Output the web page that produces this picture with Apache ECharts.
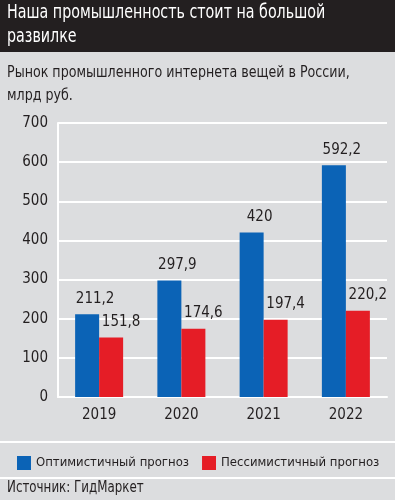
<!DOCTYPE html>
<html><head><meta charset="utf-8">
<script src="https://cdn.jsdelivr.net/npm/echarts@6/dist/echarts.min.js"></script>
<style>html,body{margin:0;padding:0;background:#dcdddf}#c{width:395px;height:500px}</style>
</head><body><div id="c"></div>
<script>
const categories = ['2019', '2020', '2021', '2022'];
const optimistic = [211.2, 297.9, 420, 592.2];
const pessimistic = [151.8, 174.6, 197.4, 220.2];
const seriesNames = ['Оптимистичный прогноз', 'Пессимистичный прогноз'];
const titleText = 'Наша промышленность стоит на большой\nразвилке';
const subtitleText = 'Рынок промышленного интернета вещей в России,\nмлрд руб.';
const sourceText = 'Источник: ГидМаркет';

const FONT = '"DejaVu Sans Condensed", sans-serif';
const fmt = p => String(p.value).replace('.', ',');
const chart = echarts.init(document.getElementById('c'));
chart.setOption({
  backgroundColor: '#dcdddf',
  textStyle: { fontFamily: FONT },
  graphic: [
    { type: 'rect', left: 0, top: 0, shape: { width: 395, height: 52 }, style: { fill: '#231f20' }, z: 0 },
    { type: 'text', x: 7, y: 1, scaleX: 0.835, style: { text: titleText, fill: '#ffffff', font: '19px ' + FONT, lineHeight: 24 } },
    { type: 'text', x: 7, y: 61, scaleX: 0.88, style: { text: subtitleText, fill: '#231f20', font: '16px ' + FONT, lineHeight: 23 } },
    { type: 'rect', left: 0, top: 441, shape: { width: 395, height: 2 }, style: { fill: '#ffffff' } },
    { type: 'rect', left: 0, top: 477, shape: { width: 395, height: 2 }, style: { fill: '#ffffff' } },
    { type: 'text', x: 7, y: 481, scaleX: 0.88, style: { text: sourceText, fill: '#231f20', font: '15px ' + FONT } }
  ],
  legend: {
    left: 12, top: 451, itemWidth: 14, itemHeight: 14, itemGap: 13, icon: 'rect',
    textStyle: { fontSize: 13, color: '#231f20', fontFamily: FONT },
    data: seriesNames
  },
  grid: { left: 58, right: 8, top: 123, bottom: 103 },
  xAxis: {
    type: 'category', data: categories,
    axisLine: { lineStyle: { color: '#ffffff', width: 2 } },
    axisTick: { show: false },
    axisLabel: { color: '#231f20', fontSize: 15, margin: 11, fontFamily: FONT },
    splitLine: { show: false }
  },
  yAxis: {
    type: 'value', min: 0, max: 700, interval: 100,
    axisLine: { show: true, lineStyle: { color: '#ffffff', width: 2 } },
    axisLabel: { color: '#231f20', fontSize: 15, margin: 10, fontFamily: FONT },
    splitLine: { lineStyle: { color: '#ffffff', width: 2 } }
  },
  series: [
    { name: seriesNames[0], type: 'bar', data: optimistic, barWidth: 24, barGap: '0%',
      itemStyle: { color: '#0b63b6' },
      label: { show: true, position: 'top', distance: 8, offset: [8, 0], formatter: fmt, color: '#231f20', fontSize: 15, fontFamily: FONT } },
    { name: seriesNames[1], type: 'bar', data: pessimistic, barWidth: 24,
      itemStyle: { color: '#e51d26' },
      label: { show: true, position: 'top', distance: 8, offset: [10, 0], formatter: fmt, color: '#231f20', fontSize: 15, fontFamily: FONT } }
  ]
});
</script></body></html>
